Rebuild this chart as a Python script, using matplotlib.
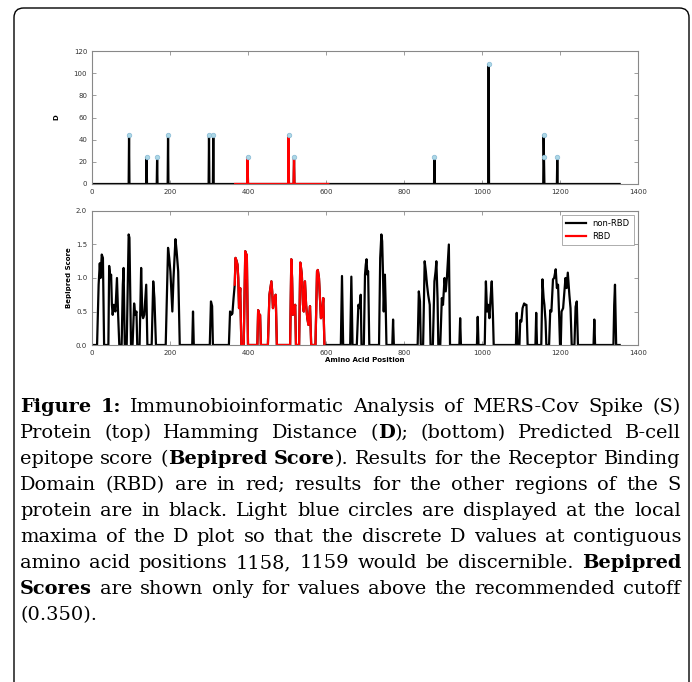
import numpy as np
import matplotlib
matplotlib.use("Agg")
import matplotlib.pyplot as plt
from matplotlib.patches import FancyBboxPatch

# protein / RBD extent
protein_len = 1353
rbd_start, rbd_end = 367, 606

# Hamming distance D: non-zero positions and values
d_pos = [95, 140, 167, 195, 300, 311, 399, 504, 518, 878, 1017, 1158, 1159, 1193]
d_val = [44, 24, 24, 44, 44, 44, 24, 44, 24, 24, 108, 44, 24, 24]

# Bepipred score vertices (0 = below cutoff)
bep_x = [1,
         13, 17, 20, 22, 25, 28, 31,
         42, 44, 47, 49, 51, 53, 56, 60, 64, 67, 70,
         76, 79, 81, 84,
         89, 94, 96, 100,
         104, 108, 111, 114, 116,
         122, 126, 129, 131, 134, 139, 142,
         153, 157, 160, 164,
         189, 195, 198, 201, 206, 209, 214, 217, 221, 225,
         257, 259, 261,
         302, 305, 308, 310,
         351, 354, 357, 360, 363, 366, 368, 371, 373, 375, 377, 380, 383,
         389, 393, 395, 397, 400,
         424, 426, 429, 431, 433,
         451, 455, 460, 462, 464, 468, 471, 474,
         508, 511, 513, 515, 518, 521, 523,
         531, 534, 536, 538, 541, 543, 546, 549, 552, 555, 559, 562,
         573, 577, 579, 582, 587, 590, 593, 596,
         638, 641, 644,
         662, 665, 668,
         679, 683, 686, 689, 691,
         697, 700, 702, 704, 706, 708, 711,
         736, 739, 742, 744, 746, 748, 751, 753, 755,
         770, 772, 774,
         835, 838, 841, 843,
         849, 853, 856, 859, 862, 866, 868,
         874, 878, 881, 883, 886, 888,
         893, 897, 900, 904, 907, 910, 913, 915, 918,
         942, 944, 946,
         987, 989, 991,
         1007, 1010, 1013, 1016, 1019, 1022, 1025, 1028, 1030,
         1087, 1089, 1091,
         1096, 1098, 1101, 1104, 1108, 1111, 1114, 1117,
         1137, 1139, 1141,
         1152, 1155, 1158, 1160, 1163, 1165,
         1172, 1175, 1178, 1182, 1185, 1189, 1192, 1195, 1198, 1200,
         1202, 1204, 1208, 1214, 1217, 1220, 1224, 1227, 1230,
         1237, 1240, 1243, 1246,
         1286, 1288, 1290,
         1337, 1339, 1341, 1344,
         1353]
bep_y = [0,
         0, 0.9, 1.22, 1.0, 1.35, 1.3, 0,
         0, 1.18, 1.0, 1.05, 0.6, 0.45, 0.6, 0.5, 1.0, 0.45, 0,
         0, 0.9, 1.15, 0,
         0, 1.65, 1.6, 0,
         0, 0.62, 0.45, 0.5, 0,
         0, 1.15, 0.45, 0.4, 0.45, 0.9, 0,
         0, 0.95, 0.7, 0,
         0, 1.45, 1.3, 1.1, 0.5, 1.0, 1.58, 1.4, 1.1, 0,
         0, 0.5, 0,
         0, 0.65, 0.58, 0,
         0, 0.5, 0.45, 0.47, 0.7, 0.9, 1.3, 1.25, 1.2, 1.0, 0.55, 0.85, 0,
         0, 1.4, 1.0, 1.35, 0,
         0, 0.52, 0.45, 0.45, 0,
         0, 0.75, 0.95, 0.8, 0.55, 0.7, 0.75, 0,
         0, 1.28, 1.0, 0.45, 0.5, 0.6, 0,
         0, 1.23, 1.15, 1.05, 0.6, 0.5, 0.95, 0.6, 0.4, 0.3, 0.58, 0,
         0, 1.1, 1.12, 1.0, 0.4, 0.45, 0.7, 0,
         0, 1.03, 0,
         0, 1.02, 0,
         0, 0.6, 0.55, 0.75, 0,
         0, 1.05, 1.2, 1.28, 1.05, 1.1, 0,
         0, 1.3, 1.65, 1.55, 1.1, 0.5, 1.05, 0.6, 0,
         0, 0.38, 0,
         0, 0.8, 0.65, 0,
         0, 1.25, 1.1, 0.9, 0.75, 0.6, 0,
         0, 0.95, 1.1, 1.25, 0.7, 0,
         0, 0.7, 0.6, 1.0, 0.8, 1.0, 1.3, 1.5, 0,
         0, 0.4, 0,
         0, 0.42, 0,
         0, 0.95, 0.5, 0.6, 0.4, 0.7, 0.95, 0.45, 0,
         0, 0.48, 0,
         0, 0.37, 0.35, 0.55, 0.62, 0.6, 0.6, 0,
         0, 0.48, 0,
         0, 0.98, 0.7, 0.6, 0.35, 0,
         0, 0.52, 0.5, 0.98, 1.0, 1.13, 0.85, 0.9, 0.4, 0,
         0, 0.5, 0.55, 1.0, 0.85, 1.08, 0.75, 0.55, 0,
         0, 0.57, 0.65, 0,
         0, 0.38, 0,
         0, 0.6, 0.9, 0,
         0]

caption_lines = [
    "**Figure 1:** Immunobioinformatic Analysis of MERS-Cov Spike (S)",
    "Protein (top) Hamming Distance (**D**); (bottom) Predicted B-cell",
    "epitope score (**Bepipred Score**). Results for the Receptor Binding",
    "Domain (RBD) are in red; results for the other regions of the S",
    "protein are in black. Light blue circles are displayed at the local",
    "maxima of the D plot so that the discrete D values at contiguous",
    "amino acid positions 1158, 1159 would be discernible. **Bepipred**",
    "**Scores** are shown only for values above the recommended cutoff",
    "(0.350).",
]

W, H = 692, 682
fig = plt.figure(figsize=(W / 100, H / 100), dpi=100)

# rounded frame around the whole figure (open at the bottom)
frame = FancyBboxPatch((14 / W, -0.05), (689 - 14) / W, (H - 8) / H + 0.05,
                       boxstyle="round,pad=0,rounding_size=0.014",
                       transform=fig.transFigure, fill=False,
                       edgecolor="black", linewidth=1.0)
fig.patches.append(frame)

tick_kw = dict(direction="in", labelsize=5, labelcolor="#333333",
               colors="#777777", length=3, width=0.5, top=True, right=True)

# ---- top panel: Hamming distance
ax1 = fig.add_axes([92 / W, 1 - 184 / H, (638 - 92) / W, 133 / H])
pos = np.arange(1, protein_len + 1)
d = np.zeros(protein_len)
d[np.array(d_pos) - 1] = d_val
rbd = (pos >= rbd_start) & (pos <= rbd_end)
ax1.plot(pos, d, color="black", lw=1.6)
ax1.plot(pos[rbd], d[rbd], color="red", lw=1.6)
ax1.plot(d_pos, d_val, "o", ms=3.2, mfc="#add8e6", mec="#8fbfd8", mew=0.6)
ax1.set_xlim(0, 1400)
ax1.set_ylim(0, 120)
ax1.set_xticks(range(0, 1401, 200))
ax1.set_yticks(range(0, 121, 20))
ax1.tick_params(**tick_kw)
ax1.set_ylabel("D", fontsize=5, fontweight="bold", labelpad=10)

# ---- bottom panel: Bepipred score
ax2 = fig.add_axes([92 / W, 1 - 345 / H, (638 - 92) / W, 134 / H])
bx = np.array(bep_x)
by = np.array(bep_y)
in_rbd = (bx >= rbd_start - 1) & (bx <= rbd_end)
ax2.plot(bx, by, color="black", lw=1.6, label="non-RBD")
ax2.plot(bx[in_rbd], by[in_rbd], color="red", lw=1.6, label="RBD")
ax2.set_xlim(0, 1400)
ax2.set_ylim(0, 2.0)
ax2.set_xticks(range(0, 1401, 200))
ax2.set_yticks(np.arange(0, 2.01, 0.5))
ax2.tick_params(**tick_kw)
ax2.set_ylabel("Bepipred Score", fontsize=5, fontweight="bold", labelpad=3)
ax2.set_xlabel("Amino Acid Position", fontsize=5, fontweight="bold", labelpad=1)
leg = ax2.legend(loc="upper right", fontsize=6, fancybox=False,
                 handlelength=2.4, borderpad=0.5, labelspacing=0.4)
leg.get_frame().set_edgecolor("#888888")
leg.get_frame().set_linewidth(0.6)

for ax in (ax1, ax2):
    for s in ax.spines.values():
        s.set_color("#888888")
        s.set_linewidth(0.8)

# ---- caption, justified word by word
renderer = fig.canvas.get_renderer()
cap_font = "DejaVu Serif"
left_px, right_px = 20, 681
first_y = 407
line_gap = 26


def text_width(s, weight, size):
    t = fig.text(0, 0, s, fontsize=size, family=cap_font, fontweight=weight)
    w = t.get_window_extent(renderer).width
    t.remove()
    return w


def split_words(line, bold):
    words = []
    for raw in line.split(" "):
        segs = []
        for k, part in enumerate(raw.split("**")):
            if k > 0:
                bold = not bold
            if part:
                segs.append((part, "bold" if bold else "normal"))
        words.append(segs)
    return words, bold


# pick the font size so the longest line just fits with normal spacing
parsed = []
bold = False
for line in caption_lines:
    words, bold = split_words(line, bold)
    parsed.append(words)
ref_size = 10
space10 = text_width("a a", "normal", ref_size) - text_width("aa", "normal", ref_size)
natural = []
for words in parsed[:-1]:
    w = sum(text_width(s, wt, ref_size) for seg in words for s, wt in seg)
    natural.append(w + space10 * (len(words) - 1))
cap_size = ref_size * (right_px - left_px) / max(natural) * 0.99

space = text_width("a a", "normal", cap_size) - text_width("aa", "normal", cap_size)
for i, words in enumerate(parsed):
    widths = [[text_width(s, wt, cap_size) for s, wt in w] for w in words]
    total = sum(sum(w) for w in widths)
    if i < len(parsed) - 1 and len(words) > 1:
        gap = (right_px - left_px - total) / (len(words) - 1)
    else:
        gap = space
    y = 1 - first_y / H - i * line_gap / H
    x = left_px
    for segs, ws in zip(words, widths):
        for (s, wt), w in zip(segs, ws):
            fig.text(x / W, y, s, fontsize=cap_size, family=cap_font,
                     fontweight=wt, va="center", ha="left")
            x += w
        x += gap

fig.savefig("out.png", dpi=100)
